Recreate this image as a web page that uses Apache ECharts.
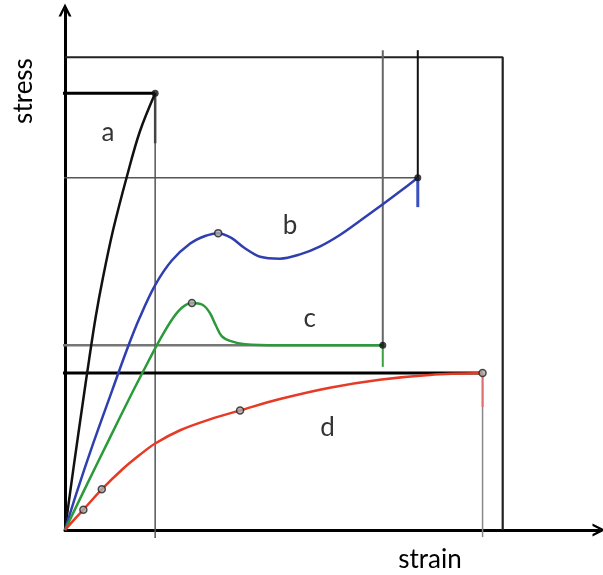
<!DOCTYPE html>
<html><head><meta charset="utf-8">
<script src="https://cdn.jsdelivr.net/npm/echarts@6/dist/echarts.min.js"></script>
<style>html,body{margin:0;padding:0;background:#fff}#c{width:603px;height:575px}</style>
</head><body><div id="c"></div>
<script>
// curves [strain, stress]
const curveA = [[0,0],[2.0,13.5],[4.0,26.5],[5.5,36],[7.0,45],[8.7,53.5],[11.0,63.5],[14.2,75.0],[17.1,84.3],[20.6,92.4]];
const curveB = [[0,0],[2.7,8.0],[6.4,18.2],[10.8,29.6],[14.2,38.3],[17.1,45.0],[20.6,51.8],[24.4,57.0],[28.6,60.6],[32.0,62.2],[35.0,62.8],[38.0,61.8],[41.1,59.6],[44.6,57.8],[49.1,57.4],[53.7,58.3],[58.3,60.0],[62.8,62.4],[67.4,65.4],[72.6,68.9],[76.5,71.6],[80.6,74.5]];
const tailB = [[80.6,74.5],[80.6,68.3]];
const curveC = [[0,0],[5,9.6],[10.3,19.6],[15,28.4],[19,35.6],[22,40.8],[24.5,44.6],[26.7,47.0],[29.0,48.0],[31.5,47.6],[33.1,45.9],[34.5,43.2],[35.8,41.0],[37.7,40.0],[41.1,39.3],[49.1,39.1],[72.6,39.1]];
const tailC = [[72.6,39.1],[72.6,34.5]];
const curveD = [[0,0],[2.1,2.2],[4.2,4.3],[8.4,8.6],[13.2,12.9],[17.1,15.9],[20.6,18.3],[26.3,21.1],[33.1,23.4],[40.0,25.3],[49.1,27.7],[60.5,30.1],[71.9,31.8],[83.3,32.8],[95.4,33.2]];
const tailD = [[95.4,33.2],[95.4,26.0]];
// frame and guide lines
const box = [[0,100],[100,100],[100,0]];
const hLineA = [[-1.6,92.4],[20.6,92.4]];
const hLineB = [[-1.6,74.5],[80.6,74.5]];
const hLineC = [[-1.6,39.1],[72.6,39.1]];
const hLineD = [[-1.6,33.2],[95.4,33.2]];
const vLineA = [[20.6,92.4],[20.6,-1.7]];
const vLineATop = [[20.6,92.4],[20.6,81.8]];
const vLineC = [[72.6,101.5],[72.6,39.1]];
const vLineB = [[80.6,101.5],[80.6,74.5]];
const vLineD = [[95.4,33.2],[95.4,-1.5]];
// markers
const openMarks = [[35.0,62.8],[29.0,48.0],[4.2,4.3],[8.4,8.6],[40.0,25.3],[95.4,33.2]];
const dotMarks = [[20.6,92.4],[80.6,74.5],[72.6,39.1]];
// curve labels
const curveLabels = [[9.8,84.0,'a'],[51.4,64.3,'b'],[55.9,44.8,'c'],[60.0,21.6,'d']];
const xName = 'strain', yName = 'stress';

const FONT = 'Lato, "Open Sans", sans-serif';
function line(data, color, width, smooth, z){
  return {type:'line', data, symbol:'none', showSymbol:false, smooth: smooth||false,
    lineStyle:{color, width}, clip:false, silent:true, z: z||2, animation:false};
}
const chevron = 'path://M0,12 L6,0 L12,12 L9.6,12 L6,4.6 L2.4,12 Z';
const axisCommon = {type:'value', axisTick:{show:false}, axisLabel:{show:false}, splitLine:{show:false},
  axisLine:{show:true, lineStyle:{color:'#000', width:3}, symbol:['none', chevron], symbolSize:[15,13]}};
const chart = echarts.init(document.getElementById('c'));
chart.setOption({
  animation:false,
  grid:{left:65, right:4, top:10, bottom:45},
  xAxis:Object.assign({min:0, max:122}, axisCommon),
  yAxis:Object.assign({min:0, max:110}, axisCommon),
  graphic:[
    {type:'text', x:430, y:560, style:{text:xName, font:'26px '+FONT, fill:'#000', textAlign:'center', textVerticalAlign:'middle'}},
    {type:'text', x:24, y:91, rotation:Math.PI/2, style:{text:yName, font:'26px '+FONT, fill:'#000', textAlign:'center', textVerticalAlign:'middle'}}
  ],
  series:[
    line(box,'#222',2.2),
    line(hLineB,'#555',1.5),
    line(hLineC,'#777',2.5),
    line(vLineA,'#555',1.5),
    line(vLineATop,'#444',2.5),
    line(vLineC,'#666',2),
    line(vLineB,'#111',2),
    line(vLineD,'#888',1.5),
    line(hLineA,'#000',3,false,3),
    line(hLineD,'#000',3,false,3),
    line(curveA,'#111',2.5,0.35,4),
    line(curveB,'#2f3fb0',2.5,0.35,4),
    line(tailB,'#3a4fc0',3,false,4),
    line(curveC,'#2a9a3a',2.5,0.35,4),
    line(tailC,'#3aa040',2,false,4),
    line(curveD,'#e63a24',2.5,0.35,4),
    line(tailD,'#e07070',2,false,4),
    {type:'scatter', data:openMarks, symbol:'circle', symbolSize:7, z:5, silent:true,
      itemStyle:{color:'#aaa', borderColor:'#222', borderWidth:1.5}},
    {type:'scatter', data:dotMarks, symbol:'circle', symbolSize:7, z:5, silent:true,
      itemStyle:{color:'#111'}},
    {type:'scatter', data:curveLabels, symbolSize:0, z:6, silent:true,
      label:{show:true, position:'inside', formatter:p=>p.data[2], fontSize:26, color:'#000', fontFamily:FONT}}
  ]
});
</script></body></html>
